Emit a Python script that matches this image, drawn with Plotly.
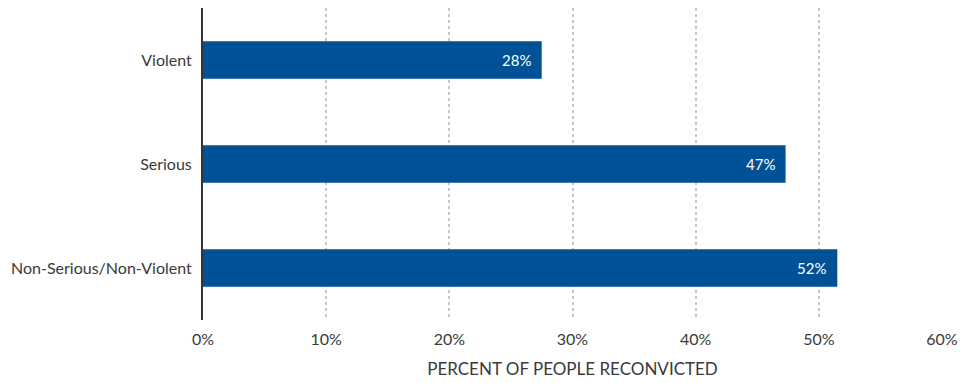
import plotly.graph_objects as go

categories = ["Violent", "Serious", "Non-Serious/Non-Violent"]
values = [27.5, 47.3, 51.5]
labels = ["28%", "47%", "52%"]
tick_vals = [0, 10, 20, 30, 40, 50, 60]
tick_text = ["0%", "10%", "20%", "30%", "40%", "50%", "60%"]

FONT = "Lato"
TXT = "#3a3a3a"

fig = go.Figure(go.Bar(
    y=categories, x=values, orientation="h",
    marker=dict(color="#005195", line=dict(width=0)),
    width=0.36, hoverinfo="skip",
))

for cat, val, lab in zip(categories, values, labels):
    fig.add_annotation(
        x=val, y=cat, text=lab, showarrow=False,
        xanchor="right", xshift=-9,
        font=dict(color="white", size=15, family=FONT),
    )

fig.update_layout(
    width=974, height=383,
    margin=dict(l=203, r=32, t=8, b=63),
    plot_bgcolor="white", paper_bgcolor="white",
    font=dict(family=FONT, color=TXT, size=16),
    showlegend=False,
    xaxis=dict(
        range=[0, 60], tickvals=tick_vals, ticktext=tick_text,
        showgrid=True, gridcolor="#c8c8c8", griddash="dot", gridwidth=1.5,
        zeroline=False, showline=False,
        tickfont=dict(size=16, color=TXT, family=FONT),
        ticks="outside", ticklen=5, tickcolor="rgba(0,0,0,0)",
        title=dict(text="PERCENT OF PEOPLE RECONVICTED",
                   font=dict(size=17, color=TXT, family=FONT), standoff=15),
    ),
    yaxis=dict(
        categoryorder="array", categoryarray=categories[::-1],
        showline=True, linecolor="#333333", linewidth=2,
        showgrid=False, zeroline=False,
        ticks="outside", ticklen=6, tickcolor="rgba(0,0,0,0)",
        tickfont=dict(size=16, color=TXT, family=FONT),
    ),
)

fig.write_html("out.html")
